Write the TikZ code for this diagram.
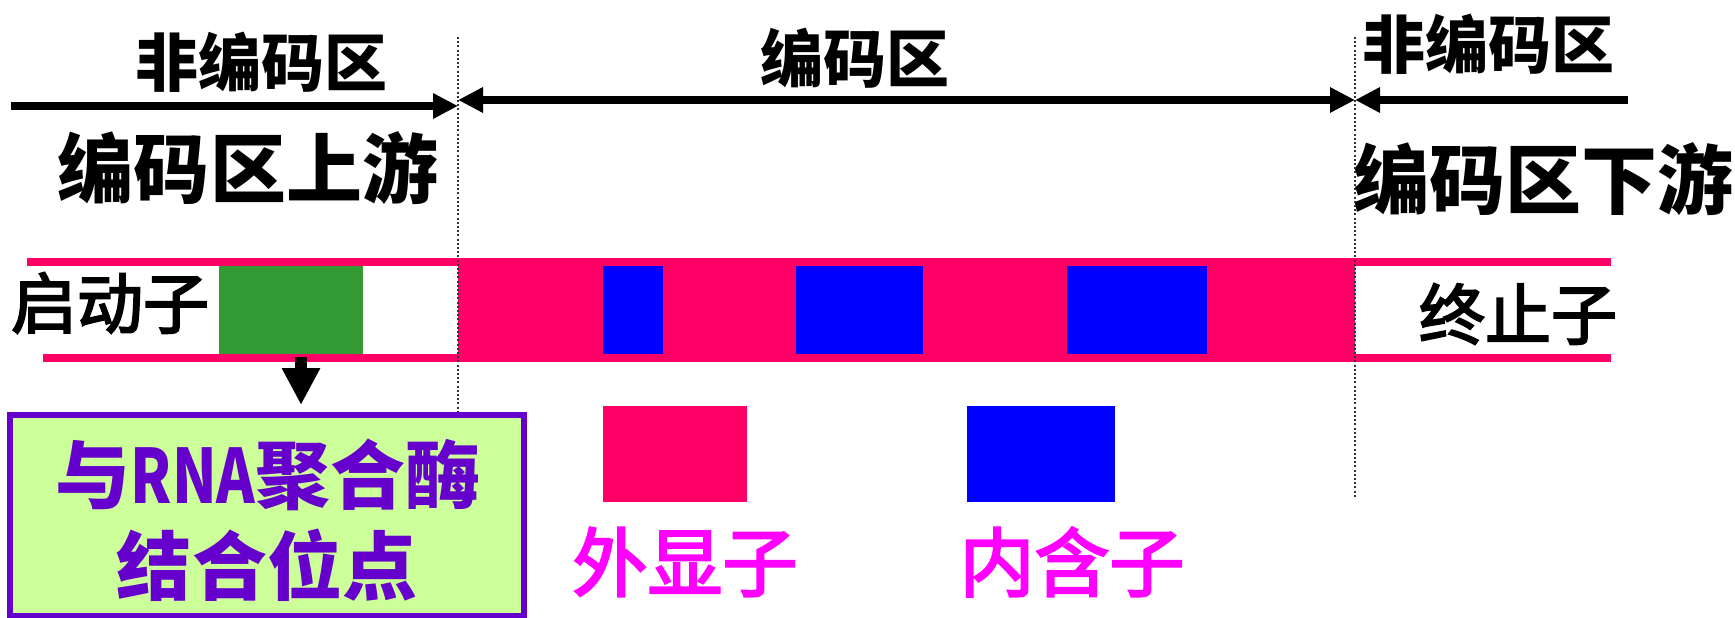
\documentclass[tikz,border=0pt]{standalone}
\usepackage{fontspec}
\usepackage{graphicx}
\newfontfamily\cjk{Noto Sans CJK SC}
\newfontfamily\cjkm{Noto Sans CJK SC}[RawFeature={embolden=3}]
\usetikzlibrary{arrows.meta}
\definecolor{exonpink}{HTML}{FF0066}
\definecolor{intronblue}{HTML}{0000FF}
\definecolor{promgreen}{HTML}{339933}
\definecolor{boxpurple}{HTML}{6600CC}
\definecolor{boxfill}{HTML}{CCFF99}
\definecolor{labmag}{HTML}{FF00FF}
\definecolor{dotgray}{HTML}{333333}
\newcommand\myfs[1]{\fontsize{#1bp}{#1bp}\selectfont}
\tikzset{
  lbl/.style={inner sep=0pt, outer sep=0pt, font=\cjk\bfseries\myfs{#1}},
  lblr/.style={inner sep=0pt, outer sep=0pt, font=\cjkm\myfs{#1}},
  tipA/.tip={Triangle[length=25bp,width=24bp]},
  dimarrow/.style={line width=8bp, draw=black},
  blk/.style={fill=#1, draw=none, inner sep=0pt, outer sep=0pt, anchor=north west},
  strand/.style={line width=8bp, draw=exonpink},
  guide/.style={line width=2bp, draw=dotgray, dash pattern=on 2bp off 2.2bp},
  downarr/.style={line width=12bp, -{Triangle[length=37bp,width=36bp]}},
}
\begin{document}
\begin{tikzpicture}[x=1bp,y=-1bp]
\useasboundingbox (0,0) rectangle (1735,618);
% top labels
\node[lbl=63] (nc1) at (261,62) {非编码区};
\node[lbl=63] (cr) at (855,58) {编码区};
\node[lbl=63] (nc2) at (1488,44) {非编码区};
\node[lbl=76] (up) at (248,168) {编码区上游};
\node[lbl=76] (dn) at (1543,179) {编码区下游};
% arrows
\coordinate (aL0) at (11,106);
\coordinate (aL1) at (458,106);
\coordinate (aM0) at (458,100);
\coordinate (aM1) at (1355,100);
\coordinate (aR0) at (1628,100);
\coordinate (aR1) at (1355,100);
\draw[dimarrow,-tipA] (aL0) -- (aL1);
\draw[dimarrow,tipA-tipA] (aM0) -- (aM1);
\draw[dimarrow,-tipA] (aR0) -- (aR1);
% coding region
\node[blk=exonpink, minimum width=897bp, minimum height=104bp] (code) at (458,258) {};
\node[blk=promgreen, minimum width=144bp, minimum height=88bp] (prom) at (219,266) {};
\node[blk=intronblue, minimum width=60bp, minimum height=88bp] (in1) at (603,266) {};
\node[blk=intronblue, minimum width=127bp, minimum height=88bp] (in2) at (796,266) {};
\node[blk=intronblue, minimum width=140bp, minimum height=88bp] (in3) at (1067,266) {};
% strands
\coordinate (sT0) at (27,262);
\coordinate (sT1) at (1611,262);
\coordinate (sB0) at (43,358);
\coordinate (sB1) at (1611,358);
\draw[strand] (sT0) -- (sT1);
\draw[strand] (sB0) -- (sB1);
% side labels
\node[lblr=66] (promlbl) at (110,303) {启动子};
\node[lblr=66] (termlbl) at (1518,314) {终止子};
% down arrow and binding-site box
\coordinate (dA) at (301,357);
\coordinate (dB) at (301,405);
\draw[downarr] (dA) -- (dB);
\node[draw=boxpurple, line width=6bp, fill=boxfill, minimum width=514bp, minimum height=201bp, inner sep=0pt, outer sep=0pt] (site) at (267,515.5) {};
\node[lbl=75, text=boxpurple] (site1) at (268,475) {与\scalebox{0.78}[1]{RNA}聚合酶};
\node[lbl=75, text=boxpurple] (site2) at (267,565) {结合位点};
% legend
\node[blk=exonpink, minimum width=144bp, minimum height=96bp] (legex) at (603,406) {};
\node[blk=intronblue, minimum width=148bp, minimum height=96bp] (legin) at (967,406) {};
\node[lblr=75, text=labmag] (exlbl) at (685,562) {外显子};
\node[lblr=75, text=labmag] (inlbl) at (1072,562) {内含子};
% guides
\coordinate (gL0) at (458,37);
\coordinate (gL1) at (458,412);
\coordinate (gR0) at (1355,37);
\coordinate (gR1) at (1355,498);
\draw[guide] (gL0) -- (gL1);
\draw[guide] (gR0) -- (gR1);
\end{tikzpicture}
\end{document}
